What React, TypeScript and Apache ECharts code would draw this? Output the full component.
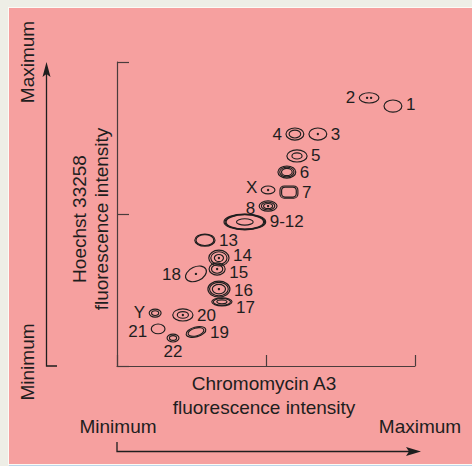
import React, { useEffect, useRef } from "react";
import * as echarts from "echarts";

// Spot data (axis units 0..100 on both axes)
const spotLabels = ["1", "2", "3", "4", "5", "6", "X", "7", "8", "9-12", "13", "14", "15", "16", "17", "18", "Y", "19", "20", "21", "22"];
const spotX = [92.6, 84.6, 67.4, 59.7, 60.4, 57.0, 50.7, 57.7, 50.7, 42.9, 29.5, 34.2, 33.6, 34.2, 35.2, 26.5, 12.8, 26.5, 22.1, 13.8, 18.8];
const spotY = [85.5, 88.2, 76.3, 76.3, 69.1, 63.8, 57.9, 57.2, 52.6, 47.4, 41.4, 35.5, 31.9, 25.3, 21.1, 30.3, 17.4, 11.2, 16.8, 12.2, 9.2];
const spotHalfW = [3.0, 3.3, 3.0, 3.0, 3.4, 3.0, 2.3, 3.0, 3.0, 7.0, 3.4, 3.4, 2.7, 3.7, 3.4, 3.7, 2.0, 3.4, 3.4, 2.3, 2.0];
const spotHalfH = [2.0, 1.7, 2.0, 2.0, 2.0, 2.0, 1.3, 2.0, 1.7, 2.6, 2.0, 2.6, 2.0, 2.6, 1.3, 2.3, 1.3, 1.6, 2.0, 1.6, 1.3];
const spotRings = [
  [1], [1], [1], [1, 0.65], [1, 0.5], [1, 0.8, 0.6], [1], [1, 0.82], [1, 0.75, 0.5],
  [1, 0.95, 0.9, 0.4], [1, 0.88], [1, 0.8, 0.45], [1, 0.7], [1, 0.85, 0.6], [1, 0.85, 0.5],
  [1], [1, 0.6], [1, 0.8], [1, 0.55], [1], [1, 0.6]
];
const spotDots = [0, 2, 1, 0, 0, 0, 1, 0, 1, 0, 0, 1, 1, 1, 0, 1, 0, 0, 1, 0, 0];
const spotShape = ["e", "e", "e", "e", "e", "e", "e", "r", "e", "e", "e", "e", "e", "e", "e", "e", "e", "e", "e", "e", "e"];
const spotTilt = [0, 0, 0, 0, 0, 0, 0, 0, 0, 0, 0, 0, 0, 0, 0, 25, 0, 15, 0, 0, 0];
const labelSide = ["right", "left", "right", "left", "right", "right", "left", "right", "left", "right", "right", "right", "right", "right", "right", "left", "left", "right", "right", "left", "below"];

// Axis ticks (min, mid, max)
const axisMin = 0;
const axisMax = 100;
const axisInterval = 50;

// layout: small vertical nudges of spot labels (pixels)
const labelNudge = [-2, 0, 0, 0, 0, 0, -2, 0, 2, 0, 0, -3, 3, 1, 6, 1, -1, 1, 1, 3, 0];

const FONT = '"Liberation Sans", Arial, Helvetica, sans-serif';
const INK = "#1e1e1e";
const PINK = "#F6A09F";

export default function App() {
  const ref = useRef<HTMLDivElement>(null);
  useEffect(() => {
    if (!ref.current) return;
    const chart = echarts.init(ref.current, null, { renderer: "svg" });
    const data = spotX.map((x, i) => [x, spotY[i], spotHalfW[i], spotHalfH[i], i]);

    const renderItem = (params: any, api: any) => {
      const i = params.dataIndex;
      const c = api.coord([api.value(0), api.value(1)]);
      const s = api.size([api.value(2), api.value(3)]);
      const rx = s[0];
      const ry = s[1];
      const children: any[] = [];
      spotRings[i].forEach((k: number) => {
        if (spotShape[i] === "r") {
          children.push({
            type: "rect",
            shape: { x: -rx * k, y: -ry * k, width: 2 * rx * k, height: 2 * ry * k, r: ry * k * 0.7 },
            style: { fill: "none", stroke: INK, lineWidth: 1.15 },
          });
        } else {
          children.push({
            type: "ellipse",
            shape: { cx: 0, cy: 0, rx: rx * k, ry: ry * k },
            style: { fill: "none", stroke: INK, lineWidth: 1.15 },
          });
        }
      });
      const nd = spotDots[i];
      for (let d = 0; d < nd; d++) {
        const off = nd === 2 ? (d === 0 ? -2 : 2) : 0;
        children.push({
          type: "circle",
          shape: { cx: off, cy: 0, r: 1.2 },
          style: { fill: INK },
        });
      }
      const shapeGroup = {
        type: "group",
        x: c[0],
        y: c[1],
        rotation: (spotTilt[i] * Math.PI) / 180,
        children,
      };
      const side = labelSide[i];
      let tx = c[0];
      let ty = c[1] + labelNudge[i];
      let align = "center";
      let valign = "middle";
      if (side === "right") {
        tx = c[0] + rx + 4;
        align = "left";
      } else if (side === "left") {
        tx = c[0] - rx - 4;
        align = "right";
      } else {
        ty = c[1] + ry + 3;
        valign = "top";
      }
      const label = {
        type: "text",
        x: tx,
        y: ty,
        style: {
          text: spotLabels[i],
          font: `17px ${FONT}`,
          lineHeight: 14,
          fill: INK,
          textAlign: align,
          textVerticalAlign: valign,
        },
      };
      return { type: "group", children: [shapeGroup, label] };
    };

    const txt = (text: string, x: number, y: number, rot = 0) => ({
      type: "text",
      x,
      y,
      rotation: rot,
      style: {
        text,
        font: `19px ${FONT}`,
        fill: INK,
        textAlign: "center",
        textVerticalAlign: "middle",
      },
      z: 10,
    });

    chart.setOption({
      animation: false,
      backgroundColor: "#eeeee6",
      grid: { left: 117, top: 62, width: 298, height: 304, containLabel: false },
      xAxis: {
        type: "value",
        min: axisMin,
        max: axisMax,
        interval: axisInterval,
        axisLine: { show: true, lineStyle: { color: "#4a3c3c", width: 1.2 } },
        axisTick: { show: true, inside: true, length: 11, lineStyle: { color: "#4a3c3c", width: 1.2 } },
        axisLabel: { show: false },
        splitLine: { show: false },
      },
      yAxis: {
        type: "value",
        min: axisMin,
        max: axisMax,
        interval: axisInterval,
        axisLine: { show: true, lineStyle: { color: "#4a3c3c", width: 1.2 } },
        axisTick: { show: true, inside: true, length: 12, lineStyle: { color: "#4a3c3c", width: 1.2 } },
        axisLabel: { show: false },
        splitLine: { show: false },
      },
      graphic: [
        { type: "rect", shape: { x: 8, y: 7, width: 464, height: 458 }, style: { fill: "#fbfbf6" }, z: -20 },
        { type: "rect", shape: { x: 9, y: 8, width: 463, height: 456 }, style: { fill: PINK }, z: -10 },
        { type: "line", shape: { x1: 9, y1: 465.5, x2: 472, y2: 465.5 }, style: { stroke: "#bcd6ea", lineWidth: 1 }, z: -10 },
        // y arrow
        { type: "polyline", shape: { points: [[57, 366], [46.5, 366], [46.5, 72]] }, style: { stroke: INK, lineWidth: 1.3, fill: "none" } },
        { type: "polygon", shape: { points: [[46.5, 62], [42.5, 77], [46.5, 74], [50.5, 77]] }, style: { fill: INK } },
        // x arrow
        { type: "polyline", shape: { points: [[117, 442], [117, 451.5], [412, 451.5]] }, style: { stroke: INK, lineWidth: 1.3, fill: "none" } },
        { type: "polygon", shape: { points: [[421, 451.5], [406, 447], [409, 451.5], [406, 456]] }, style: { fill: INK } },
        txt("Maximum", 27, 62, Math.PI / 2),
        txt("Minimum", 27, 362, Math.PI / 2),
        txt("Hoechst 33258", 79, 219, Math.PI / 2),
        txt("fluorescence intensity", 101, 219, Math.PI / 2),
        txt("Chromomycin A3", 264, 383),
        txt("fluorescence intensity", 264, 407),
        txt("Minimum", 118, 426),
        txt("Maximum", 420, 426),
      ],
      series: [
        {
          type: "custom",
          renderItem,
          data,
          clip: false,
          encode: { x: 0, y: 1 },
        },
      ],
    });
    return () => chart.dispose();
  }, []);

  return (
    <div style={{ position: "fixed", left: 0, top: 0, width: 472, height: 466, background: "#eeeee6" }}>
      <div ref={ref} style={{ width: 472, height: 466 }} />
    </div>
  );
}
